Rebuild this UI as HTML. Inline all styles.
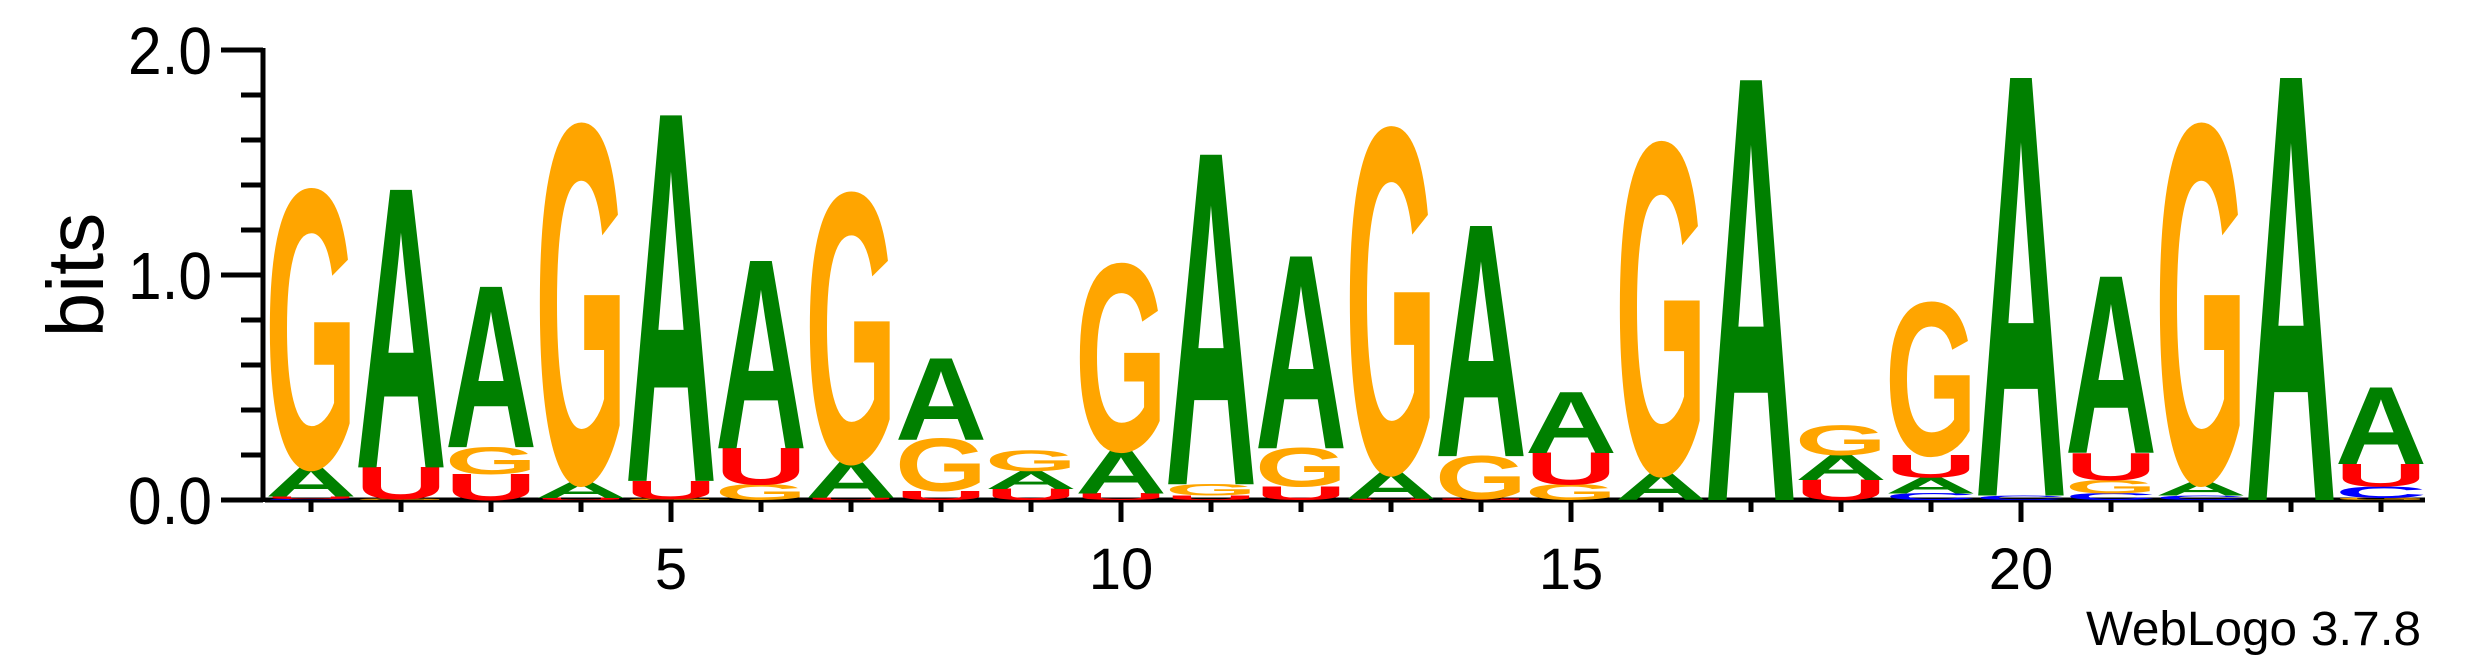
<!DOCTYPE html>
<html><head><meta charset="utf-8"><style>
html,body{margin:0;padding:0;background:#fff;}
svg{display:block;}
text{font-family:"Liberation Sans",sans-serif;}
</style></head><body>
<svg id="logo" width="2475" height="667" viewBox="0 0 2475 667" xmlns="http://www.w3.org/2000/svg">
<g id="axes"></g>
<g id="stacks"></g>
<text x="0" y="0" font-size="80" text-anchor="middle" transform="translate(103,275) rotate(-90)">bits</text>
<text x="2086" y="645" font-size="48" textLength="335" lengthAdjust="spacingAndGlyphs">WebLogo 3.7.8</text>
</svg>
<script>
const positions = [1,2,3,4,5,6,7,8,9,10,11,12,13,14,15,16,17,18,19,20,21,22,23,24];
const aBits = [0.13,1.23,0.71,0.07,1.62,0.83,0.16,0.36,0.08,0.19,1.46,0.85,0.12,1.02,0.27,0.12,1.86,0.11,0.07,1.85,0.78,0.06,1.87,0.34];
const gBits = [1.22,0.005,0.12,1.57,0.005,0.07,1.18,0.23,0.09,0.82,0.05,0.17,1.51,0.19,0.07,1.45,0,0.13,0.67,0,0.06,1.57,0,0.01];
const uBits = [0.01,0.14,0.115,0.01,0.08,0.16,0.01,0.04,0.05,0.03,0.02,0.06,0.005,0.005,0.14,0,0,0.09,0.1,0,0.12,0,0,0.1];
const cBits = [0.005,0,0,0,0,0,0,0,0,0,0,0,0,0,0,0,0,0,0.03,0.02,0.03,0.02,0,0.05];
const yTicks = [0,0.2,0.4,0.6,0.8,1,1.2,1.4,1.6,1.8,2];
const yLabels = ["0.0","1.0","2.0"];
const xLabels = ["5","10","15","20"];

const NS = "http://www.w3.org/2000/svg";
const y0 = 500, bitPx = 225, x1 = 311, colW = 90, letterW = 84;
function yScale(b){ return y0 - b*bitPx; }
function xScale(p){ return x1 + (p-1)*colW; }
const colors = {A:"#008000", G:"#FFA500", U:"#FF0000", C:"#0000FF"};

const axes = document.getElementById("axes");
function line(x1_,y1_,x2_,y2_,w,name){
  const l = document.createElementNS(NS,"line");
  l.setAttribute("x1",x1_); l.setAttribute("y1",y1_);
  l.setAttribute("x2",x2_); l.setAttribute("y2",y2_);
  l.setAttribute("stroke","#000"); l.setAttribute("stroke-width",w);
  
  
  axes.appendChild(l);
}
line(263, yScale(2)-2, 263, y0+2, 5, "y-axis-line");
line(265, y0, 2425, y0, 5, "x-axis-line");
yTicks.forEach(t=>{
  const major = Math.abs(t-Math.round(t))<1e-6;
  line(major?221:241, yScale(t), 263, yScale(t), 5, "y-tick");
});
yLabels.forEach(s=>{
  const v = parseFloat(s);
  const t = document.createElementNS(NS,"text");
  t.setAttribute("x",128); t.setAttribute("y",yScale(v)+24);
  t.setAttribute("font-size","67");
  t.setAttribute("textLength","84"); t.setAttribute("lengthAdjust","spacingAndGlyphs");
  t.textContent = s;
  
  
  axes.appendChild(t);
});
positions.forEach(p=>{
  const major = p%5===0;
  line(xScale(p), y0, xScale(p), major?522:512, 5, "x-tick");
});
xLabels.forEach(s=>{
  const p = parseInt(s);
  const t = document.createElementNS(NS,"text");
  t.setAttribute("x",xScale(p)); t.setAttribute("y",589);
  t.setAttribute("font-size","58"); t.setAttribute("text-anchor","middle");
  t.textContent = s;
  
  
  axes.appendChild(t);
});

const stacks = document.getElementById("stacks");
const padW = 4;
positions.forEach((p,i)=>{
  const items = [["A",aBits[i]],["G",gBits[i]],["U",uBits[i]],["C",cBits[i]]]
    .filter(d=>d[1]>0.003).sort((a,b)=>a[1]-b[1]);
  let acc = 0;
  const g = document.createElementNS(NS,"g");
  
  
  items.forEach(([ch,h])=>{
    const yb = yScale(acc), px = h*bitPx;
    const t = document.createElementNS(NS,"text");
    t.setAttribute("x",0); t.setAttribute("y",0);
    t.setAttribute("font-size","100"); t.setAttribute("font-weight","bold");
    t.setAttribute("textLength",letterW+padW*2); t.setAttribute("lengthAdjust","spacingAndGlyphs");
    t.setAttribute("fill",colors[ch]);
    t.setAttribute("transform","translate("+(xScale(p)-letterW/2-padW)+","+yb+") scale(1,"+(px/68.6)+")");
    t.textContent = ch;
    
    
    g.appendChild(t);
    acc += h;
  });
  stacks.appendChild(g);
});
</script>
</body></html>
